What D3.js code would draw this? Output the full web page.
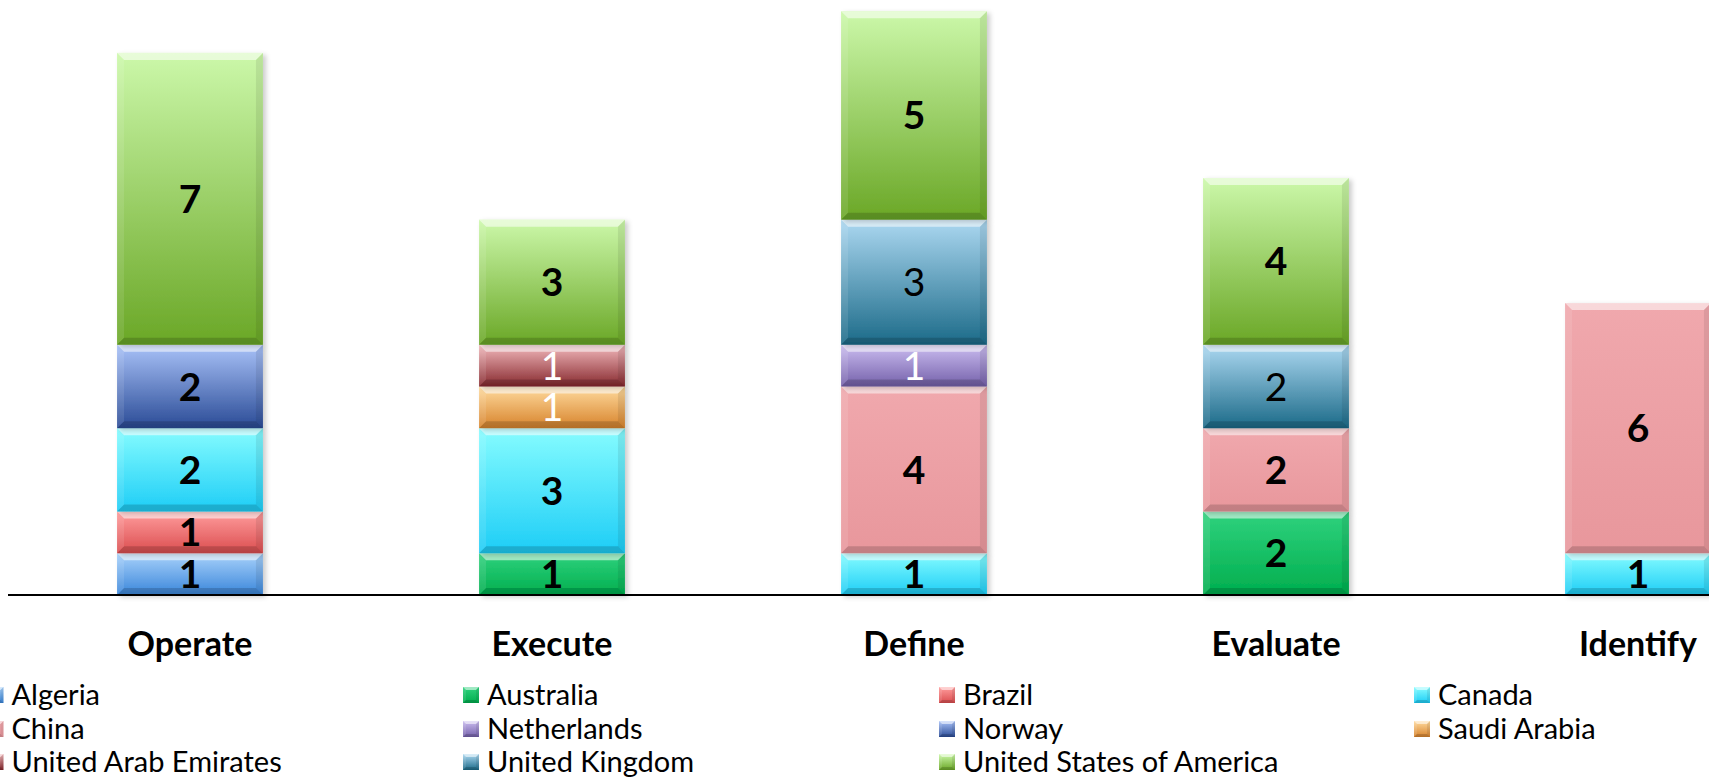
<!DOCTYPE html>
<html>
<head>
<meta charset="utf-8">
<script src="https://cdn.jsdelivr.net/npm/d3@7"></script>
<style>
  html, body { margin: 0; padding: 0; background: #fff; overflow: hidden; }
  svg { display: block; }
</style>
</head>
<body>
<svg id="chart" width="1709" height="781"></svg>
<script>
// Project phases along the x axis
const categories = ["Operate", "Execute", "Define", "Evaluate", "Identify"];

// Countries, stacked bottom to top in this order
const countries = [
  "Algeria", "Australia", "Brazil", "Canada", "China", "Netherlands",
  "Norway", "Saudi Arabia", "United Arab Emirates", "United Kingdom",
  "United States of America"
];

// Project counts per country, one value per phase
const algeria     = [1, 0, 0, 0, 0];
const australia   = [0, 1, 0, 2, 0];
const brazil      = [1, 0, 0, 0, 0];
const canada      = [2, 3, 1, 0, 1];
const china       = [0, 0, 4, 2, 6];
const netherlands = [0, 0, 1, 0, 0];
const norway      = [2, 0, 0, 0, 0];
const saudiArabia = [0, 1, 0, 0, 0];
const uae         = [0, 1, 0, 0, 0];
const uk          = [0, 0, 3, 2, 0];
const usa         = [7, 3, 5, 4, 0];

const seriesValues = [algeria, australia, brazil, canada, china, netherlands,
                      norway, saudiArabia, uae, uk, usa];

// Fill gradients (top, bottom) for each country
const gradientStops = [
  ["#a9d2fb", "#3a86da"],
  ["#30d27e", "#00ae4e"],
  ["#ff9d9d", "#db4d4f"],
  ["#86fcff", "#1dcdf6"],
  ["#f0a8ad", "#e8979c"],
  ["#cbbdf0", "#7460aa"],
  ["#a9c2f8", "#2a4b96"],
  ["#ffdb9e", "#d7832c"],
  ["#f2b9bc", "#86282e"],
  ["#acd8f1", "#1b6a88"],
  ["#ccf8aa", "#6aa726"]
];

// Value label styling per country
const labelColor  = c => (c === "Netherlands" || c === "Saudi Arabia" || c === "United Arab Emirates") ? "#ffffff" : "#000000";
const labelWeight = c => (c === "Netherlands" || c === "Saudi Arabia" || c === "United Arab Emirates" || c === "United Kingdom") ? "normal" : "bold";

const svg = d3.select("#chart");
const FONT = "Lato, 'Open Sans', sans-serif";

// Table of rows for d3.stack
const table = categories.map((cat, i) => {
  const row = { category: cat };
  countries.forEach((c, j) => { row[c] = seriesValues[j][i]; });
  return row;
});
const stacked = d3.stack().keys(countries)(table);

const baseY = 595;
const x = d3.scaleBand()
  .domain(categories)
  .range([9, 1819])
  .paddingInner(0.597)
  .paddingOuter(0.2985);
const y = d3.scaleLinear().domain([0, 14]).range([baseY, baseY - 14 * 41.7]);

// Gradients
const defs = svg.append("defs");
countries.forEach((c, j) => {
  const g = defs.append("linearGradient")
    .attr("id", "grad" + j)
    .attr("x1", 0).attr("y1", 0).attr("x2", 0).attr("y2", 1);
  g.append("stop").attr("offset", "0%").attr("stop-color", gradientStops[j][0]);
  g.append("stop").attr("offset", "100%").attr("stop-color", gradientStops[j][1]);
});
const shadow = defs.append("filter").attr("id", "shadow")
  .attr("x", "-10%").attr("y", "-10%").attr("width", "130%").attr("height", "130%");
shadow.append("feDropShadow").attr("dx", 3).attr("dy", 2).attr("stdDeviation", 2.5)
  .attr("flood-color", "#000").attr("flood-opacity", 0.2);

// Draws a bevelled block: gradient body with lit top/left and shaded right/bottom edges
function bevelBlock(sel, x0, y0, w, h, j, b) {
  const x1 = x0 + w, y1 = y0 + h;
  sel.append("rect").attr("x", x0).attr("y", y0).attr("width", w).attr("height", h)
    .attr("fill", `url(#grad${j})`);
  const poly = (pts, fill, op) => sel.append("polygon")
    .attr("points", pts.map(p => p.join(",")).join(" "))
    .attr("fill", fill).attr("fill-opacity", op);
  poly([[x0, y0], [x1, y0], [x1 - b, y0 + b], [x0 + b, y0 + b]], "#ffffff", 0.55);
  poly([[x0, y0], [x0 + b, y0 + b], [x0 + b, y1 - b], [x0, y1]], "#ffffff", 0.10);
  poly([[x1, y0], [x1, y1], [x1 - b, y1 - b], [x1 - b, y0 + b]], "#000000", 0.08);
  poly([[x0, y1], [x0 + b, y1 - b], [x1 - b, y1 - b], [x1, y1]], "#000000", 0.16);
}

// Bars
const barsG = svg.append("g");
stacked.forEach((layer, j) => {
  layer.forEach((d, i) => {
    if (d[1] - d[0] <= 0) return;
    const cat = categories[i];
    const x0 = x(cat), w = x.bandwidth();
    const yTop = y(d[1]), yBot = y(d[0]);
    const g = barsG.append("g").attr("filter", "url(#shadow)");
    bevelBlock(g, x0, yTop, w, yBot - yTop, j, 7);
  });
});

// Value labels
const labelsG = svg.append("g");
stacked.forEach((layer, j) => {
  const c = countries[j];
  layer.forEach((d, i) => {
    const v = d[1] - d[0];
    if (v <= 0) return;
    const cat = categories[i];
    labelsG.append("text")
      .attr("x", x(cat) + x.bandwidth() / 2)
      .attr("y", (y(d[0]) + y(d[1])) / 2)
      .attr("dy", "0.36em")
      .attr("text-anchor", "middle")
      .attr("font-family", FONT)
      .attr("font-size", 39)
      .attr("font-weight", labelWeight(c))
      .attr("fill", labelColor(c))
      .text(v);
  });
});

// Baseline axis
const xAxis = d3.axisBottom(x).tickSize(0).tickPadding(0);
const axisG = svg.append("g").attr("transform", `translate(0,${baseY})`).call(xAxis);
axisG.select(".domain").attr("d", `M8,0H1709`).attr("stroke", "#000").attr("stroke-width", 2);
axisG.selectAll(".tick text")
  .attr("y", 61).attr("dy", 0)
  .attr("font-family", FONT)
  .attr("font-size", 34)
  .attr("font-weight", "bold")
  .attr("fill", "#000");

// Legend: four columns, row-major order
const legendG = svg.append("g");
const colX = [-12.5, 463, 939, 1414];
const rowY = [695, 729, 762];
countries.forEach((c, j) => {
  const col = j % 4, row = Math.floor(j / 4);
  const g = legendG.append("g").attr("transform", `translate(${colX[col]},${rowY[row]})`);
  bevelBlock(g, 0, -8, 16, 16, j, 3);
  g.append("text")
    .attr("x", 24).attr("y", 0).attr("dy", "0.34em")
    .attr("font-family", FONT)
    .attr("font-size", 29)
    .attr("fill", "#000")
    .text(c);
});
</script>
</body>
</html>
